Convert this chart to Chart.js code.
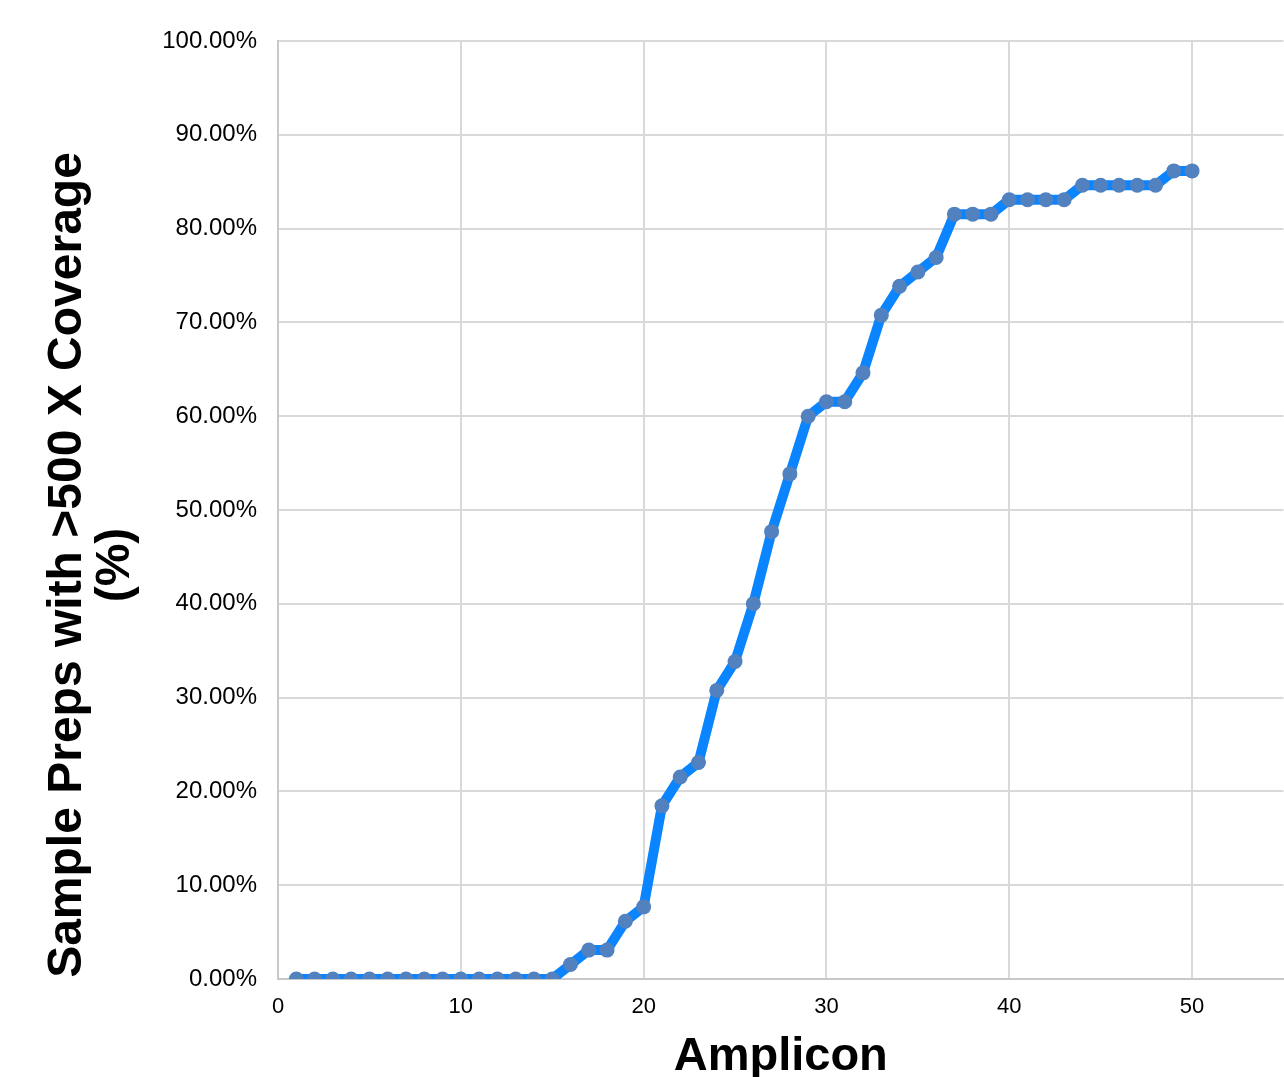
<!DOCTYPE html>
<html lang="en">
<head>
    <meta charset="UTF-8">
    <title>Sample Preps Coverage</title>
    <script src="https://cdn.jsdelivr.net/npm/chart.js"></script>
    <style>
        html, body {
            margin: 0;
            padding: 0;
            background: #ffffff;
            overflow: hidden;
        }
        #chart {
            display: block;
        }
    </style>
</head>
<body>
    <!-- a bit wider than the window: the right edge of the plot is cut off like in the original -->
    <canvas id="chart" width="1291" height="1077"></canvas>
    <script>
        // Data
        const amplicons = [1, 2, 3, 4, 5, 6, 7, 8, 9, 10, 11, 12, 13, 14, 15, 16, 17, 18, 19, 20,
            21, 22, 23, 24, 25, 26, 27, 28, 29, 30, 31, 32, 33, 34, 35, 36, 37, 38, 39, 40,
            41, 42, 43, 44, 45, 46, 47, 48, 49, 50];
        const coverage = [0, 0, 0, 0, 0, 0, 0, 0, 0, 0, 0, 0, 0, 0, 0, 1.54, 3.08, 3.08, 6.15, 7.69,
            18.46, 21.54, 23.08, 30.77, 33.85, 40.0, 47.69, 53.85, 60.0, 61.54, 61.54, 64.62, 70.77, 73.85, 75.38, 76.92, 81.54, 81.54, 81.54, 83.08,
            83.08, 83.08, 83.08, 84.62, 84.62, 84.62, 84.62, 84.62, 86.15, 86.15];
        const xTicks = [0, 10, 20, 30, 40, 50];
        const yTitle = ["Sample Preps with >500 X Coverage", "(%)"];
        const xTitle = "Amplicon";

        const fontFamily = 'Arial, "Liberation Sans", sans-serif';

        // y axis title drawn by hand so it can sit where the original has it
        const yTitlePlugin = {
            id: "yTitle",
            afterDraw(chart) {
                const ctx = chart.ctx;
                ctx.save();
                ctx.font = "bold 48px " + fontFamily;
                ctx.fillStyle = "#000";
                ctx.textAlign = "center";
                ctx.textBaseline = "alphabetic";
                ctx.translate(0, 565);
                ctx.rotate(-Math.PI / 2);
                ctx.fillText(yTitle[0], 0, 81);
                ctx.fillText(yTitle[1], 0, 129);
                ctx.restore();
            }
        };

        const ctx = document.getElementById("chart").getContext("2d");
        new Chart(ctx, {
            type: "scatter",
            data: {
                datasets: [{
                    data: amplicons.map((a, i) => ({ x: a, y: coverage[i] })),
                    showLine: true,
                    borderColor: "#0a84ff",
                    borderWidth: 10,
                    pointRadius: 7.5,
                    pointBackgroundColor: "#5181be",
                    pointBorderWidth: 0,
                    tension: 0
                }]
            },
            options: {
                responsive: false,
                animation: false,
                layout: { padding: { top: 41, right: 0, bottom: 0, left: 0 } },
                plugins: {
                    legend: { display: false },
                    tooltip: { enabled: false }
                },
                scales: {
                    x: {
                        type: "linear",
                        min: 0,
                        max: 55,
                        afterBuildTicks: (scale) => {
                            scale.ticks = xTicks.map(v => ({ value: v }));
                        },
                        afterFit: (scale) => { scale.height = 98; },
                        grid: { color: "#d9d9d9", lineWidth: 2, drawTicks: false },
                        border: { color: "#c8c8c8", width: 2 },
                        ticks: {
                            padding: 15,
                            color: "#000",
                            font: { size: 22, family: fontFamily }
                        },
                        title: {
                            display: true,
                            text: xTitle,
                            color: "#000",
                            font: { size: 47, weight: "bold", family: fontFamily },
                            padding: { top: 0, bottom: -8 }
                        }
                    },
                    y: {
                        min: 0,
                        max: 100,
                        afterFit: (scale) => { scale.width = 278; },
                        grid: { color: "#d9d9d9", lineWidth: 2, drawTicks: false },
                        border: { color: "#c8c8c8", width: 2 },
                        ticks: {
                            stepSize: 10,
                            padding: 21,
                            color: "#000",
                            font: { size: 24, family: fontFamily },
                            callback: (v) => v.toFixed(2) + "%"
                        }
                    }
                }
            },
            plugins: [yTitlePlugin]
        });
    </script>
</body>
</html>
